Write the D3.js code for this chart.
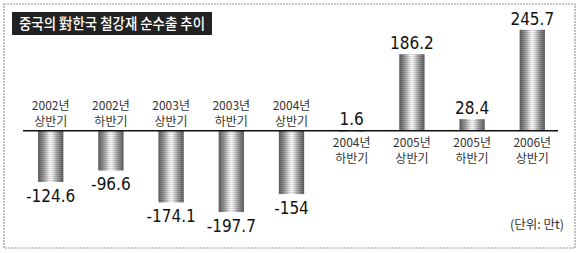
<!DOCTYPE html>
<html>
<head>
<meta charset="utf-8">
<script src="https://cdn.jsdelivr.net/npm/d3@7"></script>
<style>
  body { margin: 0; background: #fff; }
  svg { display: block; }
</style>
</head>
<body>
<svg id="chart"></svg>
<script>
    // half-year periods (two label lines each)
    const years = ["2002년", "2002년", "2003년", "2003년", "2004년", "2004년", "2005년", "2005년", "2006년"];
    const halves = ["상반기", "하반기", "상반기", "하반기", "상반기", "하반기", "상반기", "하반기", "상반기"];
    // net steel exports to Korea (만t)
    const netExports = [-124.6, -96.6, -174.1, -197.7, -154, 1.6, 186.2, 28.4, 245.7];
    const valueLabels = ["-124.6", "-96.6", "-174.1", "-197.7", "-154", "1.6", "186.2", "28.4", "245.7"];

    const title = "중국의 對한국 철강재 순수출 추이";
    const unitNote = "(단위: 만t)";

    const width = 580, height = 253;
    const svg = d3.select("#chart").attr("width", width).attr("height", height);

    const korFont = "'Noto Sans CJK KR', sans-serif";
    const numFont = "'Liberation Sans Narrow', 'DejaVu Sans Condensed', 'Liberation Sans', sans-serif";

    // dashed frame
    svg.append("rect")
        .attr("x", 4).attr("y", 4)
        .attr("width", 571).attr("height", 244)
        .attr("fill", "none")
        .attr("stroke", "#999")
        .attr("stroke-width", 1.2)
        .attr("stroke-dasharray", "2,1");

    // title box
    svg.append("rect")
        .attr("x", 12).attr("y", 12)
        .attr("width", 200).attr("height", 23)
        .attr("fill", "#222");
    svg.append("text")
        .attr("x", 19).attr("y", 29)
        .attr("fill", "#fff")
        .attr("font-family", korFont)
        .attr("font-size", 15)
        .attr("font-weight", 500)
        .attr("textLength", 186)
        .attr("lengthAdjust", "spacingAndGlyphs")
        .text(title);

    // scales
    const x = d3.scaleBand()
        .domain(d3.range(netExports.length))
        .range([20, 563])
        .paddingInner(0.58)
        .paddingOuter(0.3);

    const y = d3.scaleLinear()
        .domain([-200, 250])
        .range([213, 28]);

    // bar gradient: dark edges, light centre
    const defs = svg.append("defs");
    const grad = defs.append("linearGradient")
        .attr("id", "barGrad")
        .attr("x1", "0%").attr("x2", "100%")
        .attr("y1", "0%").attr("y2", "0%");
    [[0, "#5e5e5e"], [0.22, "#9a9a9a"], [0.42, "#e8e8e8"], [0.5, "#fafafa"], [0.58, "#e8e8e8"], [0.78, "#9a9a9a"], [1, "#5e5e5e"]]
        .forEach(([o, c]) => grad.append("stop").attr("offset", o).attr("stop-color", c));

    // thin horizontal stripes for the printed halftone look
    const stripes = defs.append("pattern")
        .attr("id", "stripes")
        .attr("patternUnits", "userSpaceOnUse")
        .attr("width", 4).attr("height", 2);
    stripes.append("rect")
        .attr("width", 4).attr("height", 1)
        .attr("fill", "#000").attr("opacity", 0.1);

    const bars = svg.append("g").attr("class", "bars");
    const barAttrs = sel => sel
        .attr("x", (d, i) => x(i))
        .attr("width", x.bandwidth())
        .attr("y", d => Math.min(y(d), y(0)))
        .attr("height", d => Math.max(1.5, Math.abs(y(d) - y(0))));

    bars.selectAll("rect.bar")
        .data(netExports)
        .join("rect")
        .attr("class", "bar")
        .call(barAttrs)
        .attr("fill", "url(#barGrad)");

    bars.selectAll("rect.stripe")
        .data(netExports)
        .join("rect")
        .attr("class", "stripe")
        .call(barAttrs)
        .attr("fill", "url(#stripes)");

    // zero line
    svg.append("line")
        .attr("x1", 23).attr("x2", 558)
        .attr("y1", y(0)).attr("y2", y(0))
        .attr("stroke", "#111")
        .attr("stroke-width", 1.5);

    // value labels
    svg.append("g").selectAll("text")
        .data(netExports)
        .join("text")
        .attr("x", (d, i) => x(i) + x.bandwidth() / 2)
        .attr("y", d => d < 0 ? y(d) + 20 : y(d) - 5)
        .attr("text-anchor", "middle")
        .attr("font-family", numFont)
        .attr("font-size", 17)
        .attr("fill", "#111")
        .text((d, i) => valueLabels[i]);

    // category labels: above the line for negative bars, below for positive
    const cats = svg.append("g").selectAll("g")
        .data(netExports)
        .join("g")
        .attr("transform", (d, i) => {
            const cx = x(i) + x.bandwidth() / 2;
            const top = d < 0 ? y(0) - 33 : y(0) + 4;
            return `translate(${cx},${top})`;
        });
    cats.append("text")
        .attr("y", 12)
        .attr("text-anchor", "middle")
        .attr("font-family", korFont)
        .attr("font-size", 12)
        .attr("fill", "#333")
        .text((d, i) => years[i]);
    cats.append("text")
        .attr("y", 28)
        .attr("text-anchor", "middle")
        .attr("font-family", korFont)
        .attr("font-size", 12)
        .attr("fill", "#333")
        .text((d, i) => halves[i]);

    // unit note
    svg.append("text")
        .attr("x", 564).attr("y", 229)
        .attr("text-anchor", "end")
        .attr("font-family", korFont)
        .attr("font-size", 12.5)
        .attr("fill", "#333")
        .text(unitNote);
</script>
</body>
</html>
